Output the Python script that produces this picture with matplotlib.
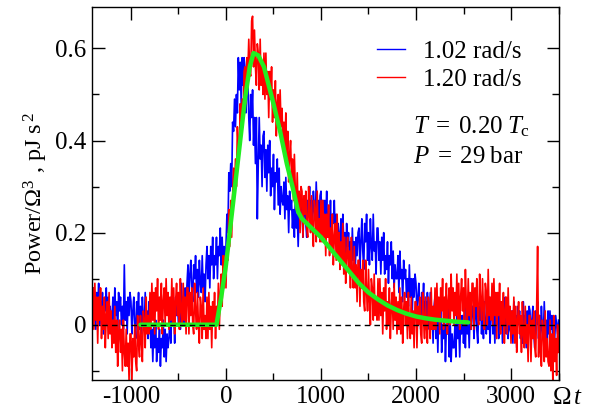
import numpy as np
import matplotlib
matplotlib.use("Agg")
import matplotlib.pyplot as plt
from matplotlib.ticker import MultipleLocator

plt.rcParams['font.family'] = ['Liberation Serif', 'DejaVu Serif']
plt.rcParams['mathtext.fontset'] = 'custom'
plt.rcParams['mathtext.rm'] = 'Liberation Serif'
plt.rcParams['mathtext.it'] = 'Liberation Serif:italic'
plt.rcParams['axes.unicode_minus'] = False

# sampling of the noisy traces along Omega t
t_start, t_step = -1400, 10

# power / Omega^3, in units of 0.01 pJ s^2
blue_102 = [
    8, 1, 6, -1, 7, 3, 9, 0, 5, 2, 7, -2, 5, 3, 8, 0, 6, -1, 4, 1,
    1, 6, -1, 8, 2, 5, -2, 7, 3, 6, 0, 4, -1, 13, 1, 5, -2, 6, 2, 7,
    5, -2, 3, 6, 0, -3, 5, 2, 7, -1, 4, -2, 6, 1, -1, 7, 0, 3, -3, 5,
    2, -5, -1, -8, 0, -5, 1, -8, -3, -6, -1, -9, -3, -5, 1, -7, -1, -8, -2, -5,
    -3, 2, -4, 5, 0, 3, -4, 6, 2, 5, 0, 4, -1, 9, 2, 6, 0, 8, 4, 9,
    13, 6, 11, 14, 8, 5, 13, 10, 15, 7, 12, 6, 14, 9, 7, 15, 8, 11, 5, 13,
    17, 10, 15, 8, 17, 13, 19, 10, 15, 13, 19, 10, 17, 15, 21, 13, 19, 12, 17, 15,
    17, 24, 20, 33, 29, 35, 30, 44, 42, 49, 43, 50, 46, 58, 51, 57, 48, 58, 52, 58,
    56, 46, 51, 54, 45, 40, 50, 45, 51, 39, 45, 35, 45, 23, 35, 45, 36, 39, 30, 41,
    42, 32, 38, 29, 39, 33, 40, 28, 34, 30, 37, 25, 33, 31, 36, 26, 34, 24, 30, 27,
    26, 31, 23, 32, 25, 28, 20, 29, 25, 27, 21, 25, 19, 28, 21, 24, 17, 25, 21, 26,
    26, 19, 24, 28, 22, 19, 27, 25, 30, 22, 27, 21, 29, 25, 23, 31, 24, 27, 20, 28,
    29, 22, 27, 20, 27, 23, 29, 20, 24, 21, 27, 18, 24, 22, 27, 19, 24, 17, 22, 19,
    18, 23, 15, 24, 18, 20, 13, 22, 17, 20, 14, 18, 12, 21, 14, 18, 11, 19, 15, 20,
    21, 12, 18, 23, 16, 12, 22, 18, 24, 14, 20, 13, 23, 17, 14, 24, 16, 18, 11, 21,
    21, 14, 18, 11, 19, 14, 20, 11, 15, 12, 18, 9, 15, 13, 18, 10, 16, 8, 13, 10,
    10, 15, 7, 16, 10, 12, 5, 14, 10, 12, 6, 10, 4, 13, 6, 10, 2, 10, 6, 11,
    9, 2, 6, 9, 3, -1, 7, 4, 9, 0, 5, -1, 7, 1, -1, 7, 0, 3, -4, 4,
    6, -3, 2, -6, 4, -1, 5, -6, 0, -3, 3, -8, 0, -2, 4, -7, 1, -8, -2, -5,
    -5, 0, -7, 3, -3, 0, -7, 2, -2, 2, -4, 0, -5, 4, -2, 2, -5, 3, -1, 4,
    4, -3, 2, 5, -1, -4, 4, 1, 6, -2, 3, -3, 5, 0, -2, 6, -1, 2, -4, 4,
    5, -2, 3, -4, 4, 0, 6, -3, 2, -1, 5, -4, 3, 1, 6, -2, 4, -3, 2, -1,
    -2, 3, -4, 5, -1, 2, -5, 4, 0, 3, -3, 1, -4, 5, -2, 2, -5, 3, -1, 4,
    3, -4, 1, 4, -2, -5, 3, 0, 5, -3, 2, -4, 4, -1, -3, 5, -2, 1, -5, 3,
    -2, 3, -1, 2, -4, 1, -3, 2, 0, -2, 1,
]

red_120 = [
    8, -1, 9, 1, 6, -4, 6, 1, 8, -3, 4, -1, 6, -5, 2, 5, -3, 7, -2, 3,
    -5, 1, -4, 4, -6, 1, -9, -2, 1, -6, -1, -10, 1, -6, -9, -1, -9, -4, -12, -2,
    -2, -12, -3, -7, 0, -8, -10, 2, -4, -7, 2, -4, -8, 3, 1, -5, 6, -2, 2, -2,
    7, -1, 9, 1, 7, -2, 8, 3, 10, -1, 6, 1, 9, -2, 5, 8, 0, 10, 2, 7,
    -1, 6, 1, 10, 0, 8, -2, 5, 9, 2, 7, -1, 10, 3, 0, 9, 1, 6, -2, 8,
    8, -2, 7, 2, 8, 0, -2, 9, 3, -1, 7, 0, -4, 6, 4, -3, 8, -1, 2, -3,
    6, -3, 7, -1, 4, -5, 5, 0, 7, -3, 4, 0, 9, -1, 7, 11, 4, 15, 8, 15,
    8, 17, 14, 25, 17, 27, 19, 28, 34, 29, 36, 30, 43, 38, 37, 48, 42, 49, 43, 55,
    56, 48, 58, 55, 62, 55, 54, 66, 67, 56, 64, 56, 52, 61, 59, 51, 62, 52, 56, 50,
    59, 49, 59, 50, 55, 45, 55, 49, 56, 44, 51, 45, 53, 41, 48, 50, 42, 51, 43, 47,
    38, 44, 38, 46, 35, 42, 31, 37, 40, 32, 36, 27, 37, 29, 25, 33, 24, 29, 20, 30,
    29, 19, 28, 24, 29, 21, 19, 30, 24, 20, 28, 21, 17, 27, 25, 18, 29, 20, 23, 18,
    27, 18, 27, 19, 24, 15, 24, 19, 26, 15, 21, 16, 24, 13, 19, 22, 14, 24, 15, 20,
    12, 18, 13, 22, 11, 19, 9, 15, 19, 12, 16, 8, 19, 11, 8, 17, 8, 13, 5, 14,
    14, 4, 12, 8, 14, 5, 3, 14, 7, 3, 12, 5, 0, 10, 8, 1, 11, 2, 6, 1,
    10, 1, 10, 2, 7, -2, 8, 3, 10, -1, 5, 0, 8, -3, 4, 7, -1, 9, 1, 6,
    -2, 5, -1, 8, -2, 6, -4, 3, 7, 0, 5, -3, 7, 0, -3, 6, -2, 3, -5, 5,
    5, -5, 4, 0, 6, -2, -4, 7, 1, -3, 6, -1, -4, 6, 4, -3, 8, -1, 4, -1,
    8, -1, 9, 1, 6, -2, 8, 3, 10, -1, 6, 1, 9, -2, 5, 8, 0, 11, 3, 8,
    0, 7, 2, 11, 1, 9, -1, 6, 10, 3, 8, 0, 12, 4, 1, 10, 2, 7, -1, 9,
    9, -1, 8, 4, 10, 2, 0, 11, 5, 1, 10, 3, -1, 9, 7, 0, 12, 2, 6, 1,
    9, 0, 10, 2, 7, -3, 7, 2, 9, -2, 5, 0, 7, -4, 3, 6, -2, 8, 0, 4,
    -4, 3, -2, 6, -4, 4, -6, 1, 5, -2, 2, -6, 5, -2, -5, 4, -4, 0, -8, 2,
    2, -8, 1, -3, 3, -5, -7, 4, 17, -7, 2, -5, -9, 1, -1, -8, 3, -7, -3, -8,
    -9, 1, -10, -2, -12, 2, -8, -3, -11, 0, -6,
]

# smooth model curve (green), pJ s^2
fit_t = [-900, -100, -50, 0, 50, 100, 150, 200, 250, 290, 340, 400, 450,
         500, 570, 640, 700, 760, 800, 900, 1000, 1100, 1200, 1300, 1400,
         1500, 1600, 1700, 1800, 1900, 2000, 2100, 2200, 2300, 2400, 2550]
fit_p = [0.0, 0.0, 0.06, 0.13, 0.22, 0.31, 0.40, 0.49, 0.56, 0.59, 0.585,
         0.56, 0.52, 0.48, 0.42, 0.35, 0.30, 0.245, 0.23, 0.21, 0.19, 0.165,
         0.14, 0.115, 0.09, 0.07, 0.055, 0.042, 0.032, 0.024, 0.018, 0.014,
         0.011, 0.009, 0.007, 0.005]

labels = ["1.02 rad/s", "1.20 rad/s"]
xticks = [-1000, 0, 1000, 2000, 3000]
yticks = [0, 0.2, 0.4, 0.6]
ytick_labels = ["0", "0.2", "0.4", "0.6"]

t_blue = t_start + t_step * np.arange(len(blue_102))
t_red = t_start + t_step * np.arange(len(red_120))
p_blue = np.array(blue_102) * 0.01
p_red = np.array(red_120) * 0.01

fig = plt.figure(figsize=(5.99, 4.12), dpi=100)
ax = fig.add_axes([0.1536, 0.0777, 0.7796, 0.9053])

ax.plot(t_blue, p_blue, color='#0000ff', lw=1.2, label=labels[0])
ax.plot(t_red, p_red, color='#ff0000', lw=1.2, label=labels[1])
ax.plot(fit_t, fit_p, color='#22ee22', lw=3.2, solid_capstyle='round')
ax.axhline(0, color='black', lw=1.0, dashes=(4, 3))

ax.set_xlim(-1410, 3505)
ax.set_ylim(-0.12, 0.69)
ax.set_xticks(xticks)
ax.set_xticklabels([str(v) for v in xticks])
ax.set_yticks(yticks)
ax.set_yticklabels(ytick_labels)
ax.xaxis.set_minor_locator(MultipleLocator(500))
ax.yaxis.set_minor_locator(MultipleLocator(0.1))
ax.tick_params(which='both', direction='in', top=True, right=True,
               labelsize=18, width=1.0)
ax.tick_params(which='major', length=9, pad=4)
ax.tick_params(which='minor', length=5)
for s in ax.spines.values():
    s.set_linewidth(1.0)

ax.set_ylabel(r"Power/$\Omega^3$ , pJ s$^{\,2}$", fontsize=17.5, labelpad=4)
ax.text(0.985, -0.048, r"$\Omega\,t$", transform=ax.transAxes,
        fontsize=18, ha='left', va='center')

leg = ax.legend(loc='upper left', bbox_to_anchor=(0.61, 0.91), frameon=False,
                fontsize=18, handlelength=1.12, handletextpad=0.72,
                borderaxespad=0, borderpad=0, labelspacing=0.22)
for line in leg.get_lines():
    line.set_linewidth(1.0)

ax.text(0.687, 0.68, r"$T\;=\;0.20\;T_{\mathrm{c}}$", transform=ax.transAxes,
        fontsize=18, ha='left', va='center')
ax.text(0.687, 0.597, r"$P\;=\;29\;\mathrm{bar}$", transform=ax.transAxes,
        fontsize=18, ha='left', va='center')

fig.savefig("out.png", dpi=100)
